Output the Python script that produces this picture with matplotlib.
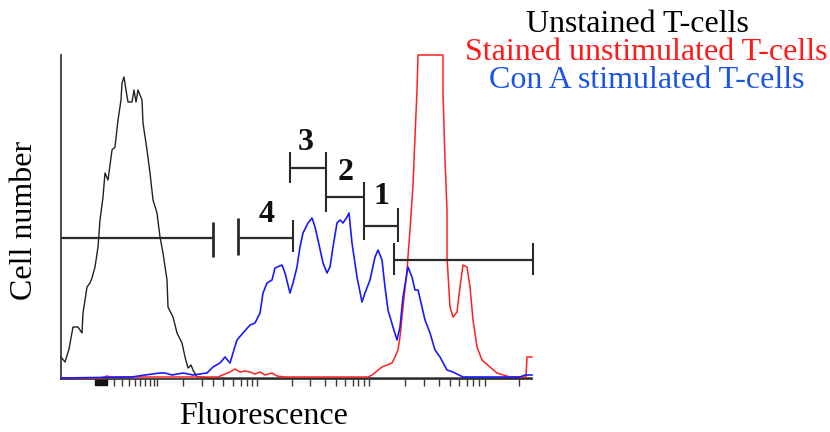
import matplotlib
matplotlib.use("Agg")
import matplotlib.pyplot as plt
from matplotlib.patches import Rectangle

# ---- data (fluorescence channel, cell count; arbitrary units) ----
unstained_x = [0, 4, 8, 12, 17, 21, 22, 26, 29, 31, 34, 37, 39, 42, 44, 47, 51, 54, 57, 60, 61, 63,
               65, 67, 71, 73, 75, 77, 81, 82, 86, 89, 92, 96, 99, 102, 106, 107, 112, 116,
               121, 124, 127, 130, 132, 136, 149, 300, 471]
unstained_y = [22, 17, 30, 52, 52, 46, 66, 92, 96, 101, 112, 132, 159, 182, 206, 199, 229, 232, 259,
               279, 296, 302, 289, 277, 277, 289, 277, 289, 279, 256, 229, 206, 179, 166, 142,
               126, 99, 72, 62, 46, 36, 22, 11, 14, 9, 2, 1, 1, 1]

stained_x = [0, 40, 46, 50, 100, 157, 164, 169, 174, 179, 184, 189, 194, 199, 204, 211, 216,
             224, 307, 311, 321, 326, 331, 334, 337, 339, 342, 346, 349, 352, 354, 356, 357,
             382, 382, 384, 386, 386, 389, 392, 396, 399, 402, 406, 409, 412, 416, 421, 429,
             436, 449, 462, 465, 466, 471]
stained_y = [1, 1, 3, 2, 2, 2, 5, 7, 10, 7, 8, 7, 5, 7, 4, 6, 3,
             2, 2, 4, 12, 14, 16, 22, 29, 42, 72, 109, 149, 194, 242, 289, 324,
             324, 286, 219, 169, 122, 72, 62, 67, 92, 114, 112, 92, 59, 32, 19, 12,
             6, 2, 2, 2, 22, 22]

cona_x = [0, 71, 84, 99, 104, 111, 122, 132, 146, 152, 159, 164, 169, 172, 176, 182, 189,
          194, 199, 202, 206, 211, 214, 221, 224, 229, 232, 236, 239, 242, 247, 251, 254,
          257, 262, 266, 269, 272, 276, 279, 282, 286, 288, 291, 296, 301, 304, 309, 314,
          317, 321, 324, 327, 332, 336, 339, 342, 347, 351, 354, 357, 361, 364, 369, 374,
          379, 386, 392, 402, 459, 464, 471]
cona_y = [1, 2, 4, 6, 6, 4, 6, 4, 6, 12, 16, 22, 16, 26, 39, 46, 54,
          56, 66, 86, 96, 99, 111, 114, 106, 86, 96, 112, 132, 146, 156, 161, 152,
          139, 116, 106, 112, 132, 156, 159, 156, 162, 166, 136, 102, 77, 86, 99, 122,
          129, 119, 92, 69, 52, 39, 52, 82, 112, 102, 89, 89, 72, 59, 46, 29,
          22, 9, 7, 2, 2, 4, 4]

# gates: (start, end, level, left tick low/high, right tick low/high)
gate_start = [0, 177, 229, 265, 303, 333]
gate_end = [152, 232, 265, 303, 337, 472]
gate_level = [141, 141, 211, 182, 153, 119]
gate_left_tick = [None, (124, 161), (196, 227), None, None, (104, 136)]
gate_right_tick = [(122, 157), (127, 159), (167, 227), (139, 197), (137, 171), (104, 136)]
gate_labels = ["4", "3", "2", "1"]
gate_label_x = [206, 245, 285, 320]
gate_label_y = [164, 236, 206, 182]

tick_positions = [53, 61, 68, 74, 79, 84, 89, 93, 96,
                  122, 141, 152, 162, 172, 180, 186, 191, 196,
                  231, 249, 264, 275, 284, 292, 297, 303, 308,
                  344, 363, 378, 389, 398, 406, 412, 418, 424, 458]

legend_labels = ["Unstained T-cells", "Stained unstimulated T-cells", "Con A stimulated T-cells"]
legend_colors = ["#000000", "#ff1a1a", "#1a55e6"]

# ---- figure ----
W, H = 830, 432
fig = plt.figure(figsize=(W / 100, H / 100), dpi=100)
ax = fig.add_axes([61 / W, (H - 379) / H, (532 - 61) / W, (379 - 55) / H])
ax.set_xlim(0, 471)
ax.set_ylim(0, 324)

serif = ["Liberation Serif", "DejaVu Serif"]
axis_color = "#3a3a3a"
FS = 23

ax.plot(unstained_x, unstained_y, color="#222222", lw=1.0, clip_on=False, zorder=3)
ax.plot(stained_x, stained_y, color="#ff2020", lw=1.1, clip_on=False, zorder=3)
ax.plot(cona_x, cona_y, color="#1a1aff", lw=1.2, clip_on=False, zorder=4)

gcol = "#2a2a2a"
for i in range(len(gate_start)):
    ax.hlines(gate_level[i], gate_start[i], gate_end[i], color=gcol, lw=1.6, clip_on=False, zorder=5)
    if gate_left_tick[i] is not None:
        ax.vlines(gate_start[i], *gate_left_tick[i], color=gcol, lw=2.0 if i == 1 else 1.5,
                  clip_on=False, zorder=5)
    if gate_right_tick[i] is not None:
        ax.vlines(gate_end[i], *gate_right_tick[i], color=gcol, lw=2.0 if i == 0 else 1.5,
                  clip_on=False, zorder=5)

for lab, lx, ly in zip(gate_labels, gate_label_x, gate_label_y):
    ax.text(lx, ly, lab, ha="center", va="center", fontsize=FS, fontweight="bold",
            family=serif, color="#111111")

# axes styling
for s in ["top", "right"]:
    ax.spines[s].set_visible(False)
for s in ["left", "bottom"]:
    ax.spines[s].set_color(axis_color)
    ax.spines[s].set_linewidth(1.3)
ax.set_yticks([])
ax.set_xticks(tick_positions)
ax.set_xticklabels([])
ax.tick_params(axis="x", direction="out", length=5, width=1, color=axis_color)
ax.add_patch(Rectangle((34, -5.5), 12, 5.5, color="#111111", clip_on=False, zorder=2))

fig.text(264 / W, 1 - 416 / H, "Fluorescence", ha="center", va="center", fontsize=FS,
         family=serif)
fig.text(24 / W, 1 - 220 / H, "Cell number", ha="center", va="center", fontsize=FS,
         family=serif, rotation=90)

# legend as text lines
legend_cx = [637, 646, 647]
for i, (lab, c) in enumerate(zip(legend_labels, legend_colors)):
    fig.text(legend_cx[i] / W, 1 - (24 + 28 * i) / H, lab, ha="center", va="center",
             fontsize=FS, family=serif, color=c)

fig.savefig("out.png", dpi=100)
